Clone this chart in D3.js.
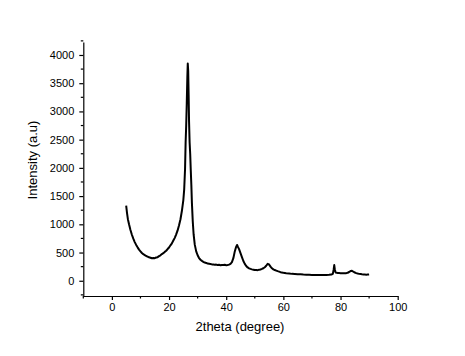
<!DOCTYPE html>
<html><head><meta charset="utf-8">
<script src="https://cdn.jsdelivr.net/npm/d3@7"></script>
<style>
html,body{margin:0;padding:0;background:#fff;}
svg{display:block;}
text{font-family:"Liberation Sans",Arial,sans-serif;fill:#000;}
</style></head>
<body>
<svg id="chart" width="465" height="356"></svg>
<script>
// 2theta values (degree)
const twoTheta = [
5.0,5.3,5.6,6.0,6.5,7.0,7.5,8.0,8.5,9.0,9.5,10.0,10.5,11.0,11.5,12.0,12.5,13.0,13.5,14.0,14.5,15.0,15.5,16.0,16.5,17.0,17.5,18.0,18.5,19.0,19.5,20.0,20.5,21.0,21.5,22.0,22.5,23.0,23.5,24.0,24.5,25.0,
25.3,25.6,25.8,26.0,26.2,26.4,26.55,26.7,26.85,27.0,27.2,27.4,27.6,27.8,28.0,28.3,28.6,29.0,
29.5,30.0,30.5,31.0,31.5,32.0,32.5,33.0,33.5,34.0,34.5,35.0,35.5,36.0,36.5,37.0,37.5,38.0,38.5,39.0,39.5,40.0,40.5,41.0,41.5,42.0,42.5,
43.0,43.4,43.8,44.1,44.5,
45.0,45.5,46.0,46.5,47.0,47.5,48.0,48.5,49.0,49.5,50.0,50.5,51.0,51.5,52.0,52.5,53.0,53.5,54.0,54.5,55.0,55.5,56.0,56.5,57.0,57.5,58.0,58.5,59.0,59.5,60.0,
61.0,62.0,63.0,64.0,65.0,66.0,67.0,68.0,69.0,70.0,71.0,72.0,73.0,74.0,75.0,76.0,
76.8,77.3,77.6,77.8,78.0,78.3,78.7,79.0,
79.5,80.0,80.5,81.0,81.5,82.0,82.5,83.0,83.5,84.0,84.5,85.0,85.5,86.0,86.5,87.0,87.5,88.0,88.5,89.0,89.5,90.0
];
// Intensity (a.u)
const intensity = [
1330,1200,1090,1000,900,815,745,685,635,592,552,522,492,470,455,438,428,415,408,398,402,400,412,418,436,450,472,488,512,532,562,590,628,662,712,760,822,892,985,1090,1240,1430,
1620,1980,2450,2750,3150,3600,3850,3720,3300,2820,2450,2250,1960,1700,1380,1050,820,640,
520,452,402,372,352,336,322,316,304,300,296,290,288,284,286,280,282,276,280,278,282,276,280,286,300,330,400,
520,590,635,600,560,
490,420,350,300,262,236,220,210,202,196,190,192,188,194,200,210,222,240,266,300,288,250,222,202,190,180,170,162,152,146,140,
132,128,122,120,116,114,110,108,106,104,102,100,102,100,104,106,
110,122,200,278,200,145,140,138,
136,134,132,134,132,135,142,155,172,176,160,146,136,128,122,118,114,112,110,108,110,112
];
const xTicks = [0,20,40,60,80,100];
const yTicks = [0,500,1000,1500,2000,2500,3000,3500,4000];

const svg = d3.select("#chart");
const x = d3.scaleLinear().domain([-10,100]).range([83.3,397.7]);
const y = d3.scaleLinear().domain([-270,4230]).range([296,42]);

// x axis
const xAxis = d3.axisBottom(x).tickValues(xTicks).tickSizeOuter(0).tickSizeInner(4).tickPadding(3).tickFormat(d3.format("d"));
const gx = svg.append("g").attr("transform","translate(0,296)").call(xAxis);
gx.select(".domain").attr("stroke","#000").attr("stroke-width",1.2);
gx.selectAll(".tick line").attr("stroke","#000").attr("stroke-width",1.2);
gx.selectAll(".tick text").attr("font-size","11px").attr("font-family","Liberation Sans, Arial, sans-serif").attr("fill","#000");
const xMinor = d3.range(-10,101,10).filter(v=>xTicks.indexOf(v)<0);
gx.selectAll(".minor").data(xMinor).enter().append("line")
  .attr("x1",d=>x(d)).attr("x2",d=>x(d)).attr("y1",0).attr("y2",2.5)
  .attr("stroke","#000").attr("stroke-width",1.2);

// y axis
const yAxis = d3.axisLeft(y).tickValues(yTicks).tickSizeOuter(0).tickSizeInner(4).tickPadding(5).tickFormat(d3.format("d"));
const gy = svg.append("g").attr("transform","translate(83.3,0)").call(yAxis);
gy.select(".domain").attr("stroke","#000").attr("stroke-width",1.2);
gy.selectAll(".tick line").attr("stroke","#000").attr("stroke-width",1.2);
gy.selectAll(".tick text").attr("font-size","11px").attr("font-family","Liberation Sans, Arial, sans-serif").attr("fill","#000");
const yMinor = d3.range(-250,4251,250).filter(v=>yTicks.indexOf(v)<0);
gy.selectAll(".minor").data(yMinor).enter().append("line")
  .attr("x1",-2.5).attr("x2",0).attr("y1",d=>y(d)).attr("y2",d=>y(d))
  .attr("stroke","#000").attr("stroke-width",1.2);

// curve
const pts = twoTheta.map((t,i)=>[t,intensity[i]]);
svg.append("path").datum(pts)
  .attr("fill","none").attr("stroke","#000").attr("stroke-width",2).attr("stroke-linejoin","round")
  .attr("d", d3.line().x(d=>x(d[0])).y(d=>y(d[1])));

// titles
svg.append("text").attr("x",240).attr("y",331).attr("text-anchor","middle")
  .attr("font-size","13px").text("2theta (degree)");
svg.append("text").attr("transform","translate(37,160) rotate(-90)").attr("text-anchor","middle")
  .attr("font-size","13px").text("Intensity (a.u)");
</script>
</body></html>
